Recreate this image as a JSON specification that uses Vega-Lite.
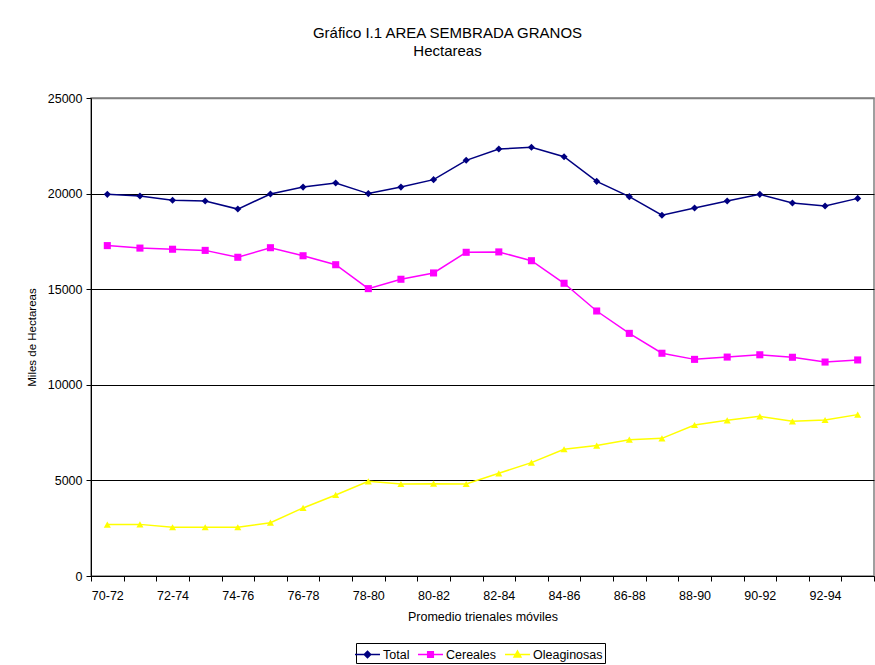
{
  "$schema": "https://vega.github.io/schema/vega-lite/v6.json",
  "autosize": "none",
  "width": 783,
  "height": 478,
  "padding": {"left": 91, "top": 98, "right": 1, "bottom": 89},
  "background": "white",
  "title": {
    "text": "Gráfico I.1 AREA SEMBRADA GRANOS",
    "subtitle": "Hectareas",
    "font": "Liberation Sans",
    "subtitleFont": "Liberation Sans",
    "fontSize": 15,
    "subtitleFontSize": 15,
    "fontWeight": "normal",
    "color": "black",
    "subtitleColor": "black",
    "anchor": "middle",
    "dx": -35,
    "offset": 33,
    "subtitlePadding": 3
  },
  "config": {
    "view": {"stroke": "#808080", "strokeWidth": 1.5},
    "axis": {
      "labelFont": "Liberation Sans",
      "titleFont": "Liberation Sans",
      "labelColor": "black",
      "titleColor": "black",
      "domainColor": "black",
      "tickColor": "black",
      "labelFontSize": 12.5,
      "titleFontWeight": "normal"
    },
    "legend": {
      "labelFont": "Liberation Sans",
      "labelColor": "black",
      "orient": "none",
      "legendX": 265,
      "legendY": 545,
      "direction": "horizontal",
      "strokeColor": "black",
      "fillColor": "white",
      "padding": 2,
      "labelFontSize": 12.5,
      "labelOffset": 6,
      "columnPadding": 5,
      "symbolSize": 289,
      "symbolOpacity": 1,
      "symbolStrokeWidth": 1.5
    }
  },
  "data": {
    "values": [
      {"p": "70-72", "s": "Total", "v": 19960}, {"p": "71-73", "s": "Total", "v": 19870}, {"p": "72-74", "s": "Total", "v": 19650}, {"p": "73-75", "s": "Total", "v": 19610},
      {"p": "74-76", "s": "Total", "v": 19190}, {"p": "75-77", "s": "Total", "v": 19980}, {"p": "76-78", "s": "Total", "v": 20340}, {"p": "77-79", "s": "Total", "v": 20550},
      {"p": "78-80", "s": "Total", "v": 20000}, {"p": "79-81", "s": "Total", "v": 20340}, {"p": "80-82", "s": "Total", "v": 20730}, {"p": "81-83", "s": "Total", "v": 21740},
      {"p": "82-84", "s": "Total", "v": 22330}, {"p": "83-85", "s": "Total", "v": 22420}, {"p": "84-86", "s": "Total", "v": 21930}, {"p": "85-87", "s": "Total", "v": 20640},
      {"p": "86-88", "s": "Total", "v": 19840}, {"p": "87-89", "s": "Total", "v": 18870}, {"p": "88-90", "s": "Total", "v": 19250}, {"p": "89-91", "s": "Total", "v": 19610},
      {"p": "90-92", "s": "Total", "v": 19960}, {"p": "91-93", "s": "Total", "v": 19510}, {"p": "92-94", "s": "Total", "v": 19350}, {"p": "93-95", "s": "Total", "v": 19750},
      {"p": "70-72", "s": "Cereales", "v": 17280}, {"p": "71-73", "s": "Cereales", "v": 17150}, {"p": "72-74", "s": "Cereales", "v": 17090}, {"p": "73-75", "s": "Cereales", "v": 17030},
      {"p": "74-76", "s": "Cereales", "v": 16670}, {"p": "75-77", "s": "Cereales", "v": 17170}, {"p": "76-78", "s": "Cereales", "v": 16750}, {"p": "77-79", "s": "Cereales", "v": 16280},
      {"p": "78-80", "s": "Cereales", "v": 15030}, {"p": "79-81", "s": "Cereales", "v": 15520}, {"p": "80-82", "s": "Cereales", "v": 15850}, {"p": "81-83", "s": "Cereales", "v": 16930},
      {"p": "82-84", "s": "Cereales", "v": 16950}, {"p": "83-85", "s": "Cereales", "v": 16490}, {"p": "84-86", "s": "Cereales", "v": 15310}, {"p": "85-87", "s": "Cereales", "v": 13860},
      {"p": "86-88", "s": "Cereales", "v": 12690}, {"p": "87-89", "s": "Cereales", "v": 11650}, {"p": "88-90", "s": "Cereales", "v": 11330}, {"p": "89-91", "s": "Cereales", "v": 11450},
      {"p": "90-92", "s": "Cereales", "v": 11570}, {"p": "91-93", "s": "Cereales", "v": 11440}, {"p": "92-94", "s": "Cereales", "v": 11190}, {"p": "93-95", "s": "Cereales", "v": 11300},
      {"p": "70-72", "s": "Oleaginosas", "v": 2690}, {"p": "71-73", "s": "Oleaginosas", "v": 2700}, {"p": "72-74", "s": "Oleaginosas", "v": 2550}, {"p": "73-75", "s": "Oleaginosas", "v": 2550},
      {"p": "74-76", "s": "Oleaginosas", "v": 2550}, {"p": "75-77", "s": "Oleaginosas", "v": 2790}, {"p": "76-78", "s": "Oleaginosas", "v": 3560}, {"p": "77-79", "s": "Oleaginosas", "v": 4240},
      {"p": "78-80", "s": "Oleaginosas", "v": 4950}, {"p": "79-81", "s": "Oleaginosas", "v": 4810}, {"p": "80-82", "s": "Oleaginosas", "v": 4830}, {"p": "81-83", "s": "Oleaginosas", "v": 4810},
      {"p": "82-84", "s": "Oleaginosas", "v": 5370}, {"p": "83-85", "s": "Oleaginosas", "v": 5930}, {"p": "84-86", "s": "Oleaginosas", "v": 6630}, {"p": "85-87", "s": "Oleaginosas", "v": 6820},
      {"p": "86-88", "s": "Oleaginosas", "v": 7130}, {"p": "87-89", "s": "Oleaginosas", "v": 7200}, {"p": "88-90", "s": "Oleaginosas", "v": 7900}, {"p": "89-91", "s": "Oleaginosas", "v": 8140},
      {"p": "90-92", "s": "Oleaginosas", "v": 8350}, {"p": "91-93", "s": "Oleaginosas", "v": 8090}, {"p": "92-94", "s": "Oleaginosas", "v": 8160}, {"p": "93-95", "s": "Oleaginosas", "v": 8440}
    ]
  },
  "encoding": {
    "x": {
      "field": "p",
      "type": "ordinal",
      "sort": null,
      "bandPosition": 0.5,
      "scale": {"type": "band", "paddingInner": 0, "paddingOuter": 0},
      "axis": {
        "title": "Promedio trienales móviles",
        "titleFontSize": 12.5,
        "titlePadding": 9,
        "labelAngle": 0,
        "tickBand": "extent",
        "tickSize": 5,
        "labelPadding": 8,
        "labelExpr": "parseInt(substring(datum.label, 0, 2)) % 2 == 0 ? datum.label : ''",
        "grid": false
      }
    },
    "y": {
      "field": "v",
      "type": "quantitative",
      "scale": {"domain": [0, 25000], "nice": false},
      "axis": {
        "title": "Miles de Hectareas",
        "titleFontSize": 11.5,
        "titlePadding": 10,
        "values": [0, 5000, 10000, 15000, 20000, 25000],
        "format": "d",
        "tickSize": 5,
        "labelPadding": 4,
        "grid": true,
        "gridColor": {"condition": {"test": "datum.value >= 25000", "value": "#808080"}, "value": "black"},
        "gridWidth": {"condition": {"test": "datum.value >= 25000", "value": 1.5}, "value": 1}
      }
    }
  },
  "layer": [
    {
      "mark": {"type": "line", "strokeWidth": 1.5},
      "encoding": {
        "color": {
          "field": "s",
          "type": "nominal",
          "scale": {"domain": ["Total", "Cereales", "Oleaginosas"], "range": ["#000080", "#FF00FF", "#FFFF00"]},
          "legend": null
        },
        "detail": {"field": "s"}
      }
    },
    {
      "mark": {"type": "point", "filled": true, "opacity": 1, "size": 50},
      "encoding": {
        "color": {
          "field": "s",
          "type": "nominal",
          "scale": {"domain": ["Total", "Cereales", "Oleaginosas"], "range": ["#000080", "#FF00FF", "#FFFF00"]},
          "legend": null
        },
        "shape": {
          "field": "s",
          "type": "nominal",
          "scale": {"domain": ["Total", "Cereales", "Oleaginosas"], "range": ["diamond", "square", "triangle-up"]},
          "legend": null
        }
      }
    },
    {
      "mark": {"type": "point", "opacity": 0, "size": 289, "strokeWidth": 1.5},
      "encoding": {
        "fill": {
          "field": "s",
          "type": "nominal",
          "scale": {"domain": ["Total", "Cereales", "Oleaginosas"], "range": ["#000080", "#FF00FF", "#FFFF00"]},
          "legend": {"title": null}
        },
        "stroke": {
          "field": "s",
          "type": "nominal",
          "scale": {"domain": ["Total", "Cereales", "Oleaginosas"], "range": ["#000080", "#FF00FF", "#FFFF00"]},
          "legend": {"title": null}
        },
        "shape": {
          "field": "s",
          "type": "nominal",
          "scale": {
            "domain": ["Total", "Cereales", "Oleaginosas"],
            "range": [
              "M-1.47,0H1.47M-0.38,0L0,-0.38L0.38,0L0,0.38Z",
              "M-1.47,0H1.47M-0.33,-0.33H0.33V0.33H-0.33Z",
              "M-1.47,0H1.47M0,-0.4L0.4,0.3L-0.4,0.3Z"
            ]
          },
          "legend": {"title": null}
        }
      }
    }
  ],
  "resolve": {"scale": {"shape": "independent", "fill": "independent", "stroke": "independent"}}
}
